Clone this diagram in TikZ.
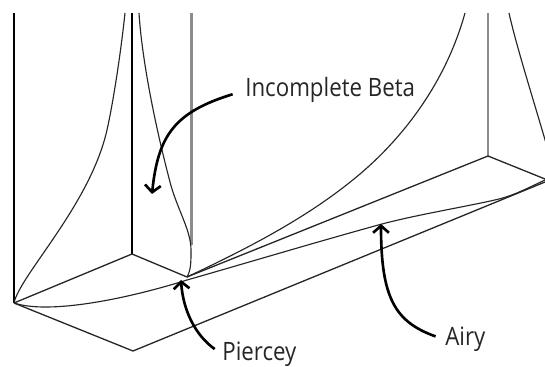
\documentclass[tikz,border=0pt]{standalone}
\usepackage{fontspec}
\setmainfont[FakeStretch=0.88]{Open Sans}
\usetikzlibrary{arrows.meta}
\tikzset{
  frameline/.style={black,line width=0.95pt},
  backline/.style={gray!90,line width=1.6pt},
  curveline/.style={black!85,line width=0.65pt},
  calloutline/.style={black,line width=1.5pt,-{Straight Barb[length=4pt,width=9pt]}},
  calloutlabel/.style={font=\fontsize{14.4}{16}\selectfont,text=black!85,anchor=base west,inner sep=0pt}
}
\begin{document}
\begin{tikzpicture}[x=0.02cm,y=-0.02cm]
\useasboundingbox (0,0) rectangle (545,367);
\clip (0,0) rectangle (545,367);
% box corners
\coordinate (lefttop) at (14,13);
\coordinate (leftbase) at (14,303);
\coordinate (midtop) at (132,13);
\coordinate (midbase) at (132,254);
\coordinate (fronttop) at (191.5,13);
\coordinate (frontbase) at (191.5,245);
\coordinate (apex) at (187,277);
\coordinate (righttop) at (488,13);
\coordinate (rightbase) at (488,156);
\coordinate (lowfront) at (133,351);
\coordinate (rightedge) at (545,182);
\coordinate (rightedgeup) at (545,179);
% verticals
\draw[backline] (fronttop)--(frontbase);
\draw[backline] (righttop)--(rightbase);
\draw[frameline] (lefttop)--(leftbase);
\draw[frameline,line width=0.7pt] (midtop)--(midbase);
% floor
\draw[curveline,line width=0.75pt] (leftbase)--(midbase)--(apex)--(rightbase)--(rightedgeup);
\draw[curveline,line width=0.75pt] (leftbase)--(lowfront)--(rightedge);
% curves
\draw[curveline] (leftbase) .. controls (20,275) and (90,205) .. (107,130) .. controls (112,108) and (120,60) .. (125,13);
\draw[curveline] (139,13) .. controls (142,60) and (155,125) .. (170,182) .. controls (177,209) and (191,230) .. (191,250) .. controls (191,262) and (191,270) .. (apex);
\draw[curveline] (leftbase) .. controls (50,315) and (130,298) .. (187,280);
\draw[curveline] (apex) .. controls (240,252) and (300,222) .. (349,183) .. controls (400,143) and (445,85) .. (465,13);
\draw[curveline] (187,280) .. controls (250,262) and (320,241) .. (382,224) .. controls (420,214) and (470,206) .. (499,199) .. controls (515,195) and (530,187) .. (545,180);
\draw[curveline] (509,13) .. controls (516,45) and (535,105) .. (548,150);
% labels
\node[calloutlabel] (betalabel) at (245,97) {Incomplete Beta};
\node[calloutlabel] (pierceylabel) at (222,360.5) {Piercey};
\node[calloutlabel] (airylabel) at (445,346) {Airy};
\coordinate (betatip) at (152,194);
\coordinate (pierceytip) at (181,280);
\coordinate (airytip) at (381,224);
\draw[calloutline,shorten <=13*0.567pt] (betalabel.west) .. controls (175,112) and (158,135) .. (betatip);
\draw[calloutline,shorten <=9*0.567pt] (pierceylabel.west) .. controls (195,335) and (183,310) .. (pierceytip);
\draw[calloutline,shorten <=10*0.567pt] (airylabel.west) .. controls (395,322) and (381,298) .. (airytip);
\end{tikzpicture}
\end{document}
